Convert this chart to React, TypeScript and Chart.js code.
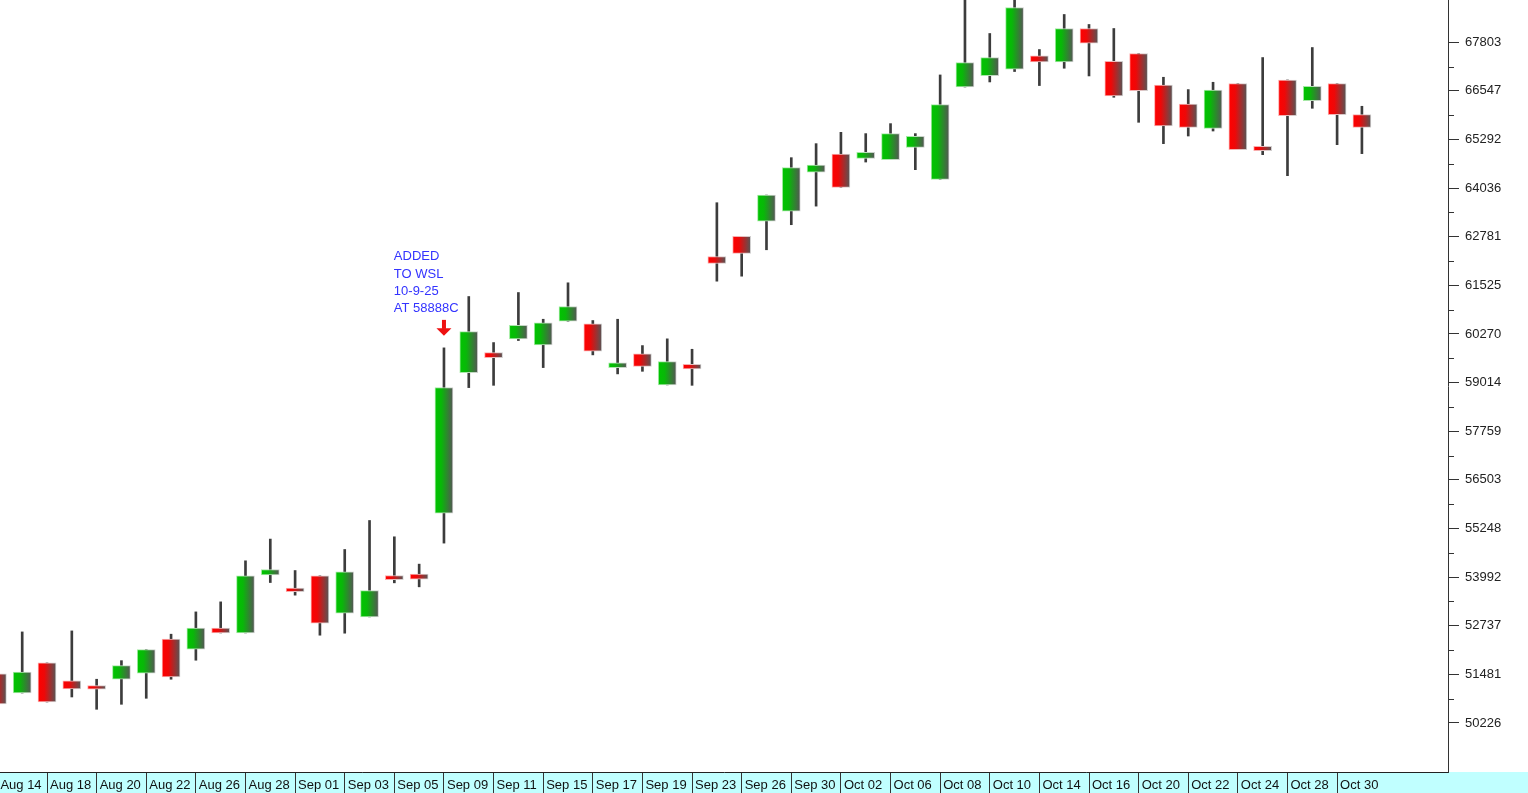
import React, { useEffect, useRef } from 'react';
import { Chart, registerables } from 'chart.js';

Chart.register(...registerables);

// ---- Data ----
const dates = [
  'Aug 14', 'Aug 15', 'Aug 18', 'Aug 19', 'Aug 20', 'Aug 21', 'Aug 22', 'Aug 25', 'Aug 26', 'Aug 27',
  'Aug 28', 'Aug 29', 'Sep 01', 'Sep 02', 'Sep 03', 'Sep 04', 'Sep 05', 'Sep 08', 'Sep 09', 'Sep 10',
  'Sep 11', 'Sep 12', 'Sep 15', 'Sep 16', 'Sep 17', 'Sep 18', 'Sep 19', 'Sep 22', 'Sep 23', 'Sep 25',
  'Sep 26', 'Sep 29', 'Sep 30', 'Oct 01', 'Oct 02', 'Oct 03', 'Oct 06', 'Oct 07', 'Oct 08', 'Oct 09',
  'Oct 10', 'Oct 13', 'Oct 14', 'Oct 15', 'Oct 16', 'Oct 17', 'Oct 20', 'Oct 21', 'Oct 22', 'Oct 23',
  'Oct 24', 'Oct 27', 'Oct 28', 'Oct 29', 'Oct 30', 'Oct 31',
];

const tickLabels = [
  'Aug 14', 'Aug 18', 'Aug 20', 'Aug 22', 'Aug 26', 'Aug 28', 'Sep 01', 'Sep 03', 'Sep 05', 'Sep 09',
  'Sep 11', 'Sep 15', 'Sep 17', 'Sep 19', 'Sep 23', 'Sep 26', 'Sep 30', 'Oct 02', 'Oct 06', 'Oct 08',
  'Oct 10', 'Oct 14', 'Oct 16', 'Oct 20', 'Oct 22', 'Oct 24', 'Oct 28', 'Oct 30',
];

const opens = [
  51492, 51000, 51776, 51311, 51189, 51355, 51510, 52389, 52130, 52673,
  52551, 54051, 53707, 54025, 53061, 52965, 54033, 54069, 55646, 59272,
  59789, 60144, 59989, 60599, 60531, 59402, 59756, 58955, 59487, 62271,
  62788, 63184, 63442, 64450, 64916, 64804, 64771, 65089, 64262, 66647,
  66942, 67105, 67449, 67294, 68157, 67312, 67511, 66699, 66208, 65580,
  66735, 65115, 66828, 66296, 66735, 65934,
];

const highs = [
  51492, 52577, 51776, 52603, 51355, 51835, 52120, 52518, 53094, 53353,
  54413, 54974, 54162, 54025, 54705, 55454, 55033, 54327, 59911, 61237,
  60048, 61340, 60650, 61591, 60617, 60650, 59970, 60144, 59875, 63659,
  62788, 63856, 64822, 65184, 65476, 65443, 65701, 65443, 66958, 69200,
  68028, 69100, 67614, 68519, 68261, 68157, 67511, 66898, 66580, 66769,
  66735, 67407, 66828, 67666, 66735, 66149,
];

const lows = [
  50716, 51000, 50768, 50897, 50579, 50708, 50863, 51355, 51846, 52551,
  52551, 53852, 53526, 52492, 52544, 52965, 53844, 53741, 54870, 58885,
  58944, 60100, 59402, 60599, 59730, 59239, 59306, 58955, 58944, 61633,
  61762, 62444, 63091, 63571, 64055, 64709, 64771, 64512, 64262, 66647,
  66777, 67046, 66684, 67131, 66932, 66381, 65735, 65184, 65381, 65510,
  65029, 64900, 64357, 66097, 65158, 64926,
];

const closes = [
  50716, 51543, 50768, 51104, 51096, 51706, 52120, 51414, 52673, 52551,
  54025, 54188, 53619, 52802, 54128, 53645, 53929, 53940, 58888, 60332,
  59660, 60495, 60557, 60979, 59823, 59523, 59435, 59557, 59368, 62090,
  62349, 63856, 64564, 64631, 64055, 64959, 65443, 65373, 66193, 67278,
  67407, 68700, 67294, 68157, 67777, 66415, 66554, 65639, 65606, 66570,
  65029, 65003, 65908, 66666, 65934, 65606,
];

const yTicks = [
  67803, 66547, 65292, 64036, 62781, 61525, 60270, 59014, 57759, 56503,
  55248, 53992, 52737, 51481, 50226,
];

const annotationIndex = 18;
const annotationLines = ['ADDED', 'TO WSL', '10-9-25', 'AT 58888C'];

// ---- Axis ranges ----
const X_MIN = 0.105;
const X_MAX = 58.47;
const Y_MIN = 48960;
const Y_MAX = 68893;

const FONT = 'Liberation Sans, Arial, Helvetica, sans-serif';

const isUp = (i: number) => closes[i] >= opens[i];

const bodyFill = (c: any) => {
  const i = c.dataIndex;
  const up = isUp(i);
  const base = up ? '#00c000' : '#ff0000';
  const chart = c.chart;
  if (c.type !== 'data' || !chart.chartArea || !chart.scales.x) return base;
  const x = chart.scales.x.getPixelForValue(i);
  const g = chart.ctx.createLinearGradient(x - 9, 0, x + 9, 0);
  g.addColorStop(0, up ? '#00c400' : '#ff0000');
  g.addColorStop(0.35, up ? '#08b808' : '#ee0808');
  g.addColorStop(1, '#555555');
  return g;
};

const bodyBorder = (c: any) => {
  const i = c.dataIndex;
  const up = isUp(i);
  const base = up ? '#a0eca0' : '#ffa8a8';
  const chart = c.chart;
  if (c.type !== 'data' || !chart.chartArea || !chart.scales.x) return base;
  const x = chart.scales.x.getPixelForValue(i);
  const g = chart.ctx.createLinearGradient(x - 9, 0, x + 9, 0);
  g.addColorStop(0, base);
  g.addColorStop(1, '#d0d0d0');
  return g;
};

const backgroundPlugin = {
  id: 'bgStrip',
  beforeDraw(chart: any) {
    const { ctx, width, height, chartArea } = chart;
    ctx.save();
    ctx.fillStyle = '#ffffff';
    ctx.fillRect(0, 0, width, height);
    ctx.fillStyle = '#c0ffff';
    ctx.fillRect(0, chartArea.bottom, width, height - chartArea.bottom);
    ctx.restore();
  },
};

const minorTickPlugin = {
  id: 'minorTicks',
  afterDraw(chart: any) {
    const { ctx, chartArea, scales } = chart;
    const y = scales.y;
    ctx.save();
    ctx.strokeStyle = '#333333';
    ctx.lineWidth = 1;
    for (let k = 0; k < yTicks.length - 1; k++) {
      const mid = (yTicks[k] + yTicks[k + 1]) / 2;
      const py = Math.round(y.getPixelForValue(mid)) + 0.5;
      ctx.beginPath();
      ctx.moveTo(chartArea.right, py);
      ctx.lineTo(chartArea.right + 6, py);
      ctx.stroke();
    }
    ctx.restore();
  },
};

const annotationPlugin = {
  id: 'wslNote',
  afterDatasetsDraw(chart: any) {
    const { ctx, scales } = chart;
    const x = scales.x.getPixelForValue(annotationIndex);
    const tip = scales.y.getPixelForValue(highs[annotationIndex]) - 12;
    const top = tip - 16;
    ctx.save();
    // arrow
    ctx.fillStyle = '#ee1111';
    ctx.fillRect(x - 2, top, 4, 9);
    ctx.beginPath();
    ctx.moveTo(x - 7.5, top + 8.5);
    ctx.lineTo(x + 7.5, top + 8.5);
    ctx.lineTo(x, tip);
    ctx.closePath();
    ctx.fill();
    // text
    ctx.fillStyle = '#3333ff';
    ctx.font = `13px ${FONT}`;
    ctx.textAlign = 'left';
    ctx.textBaseline = 'middle';
    const left = scales.x.getPixelForValue(annotationIndex - 2) - 0.5;
    const n = annotationLines.length;
    annotationLines.forEach((line, k) => {
      ctx.fillText(line, left, top - 11 - (n - 1 - k) * 17.4);
    });
    ctx.restore();
  },
};

export default function App() {
  const ref = useRef<HTMLCanvasElement>(null);

  useEffect(() => {
    document.body.style.margin = '0';
    const canvas = ref.current;
    if (!canvas) return;

    const bodyData = opens.map((o, i) => ({ x: i, y: [o, closes[i]] }));
    const wickData = lows.map((l, i) => ({ x: i, y: [l, highs[i]] }));

    const chart = new Chart(canvas, {
      type: 'bar',
      data: {
        datasets: [
          {
            label: 'wick',
            data: wickData as any,
            backgroundColor: '#3c3c3c',
            borderWidth: 0,
            barThickness: 2,
            grouped: false,
            order: 2,
          } as any,
          {
            label: 'body',
            data: bodyData as any,
            backgroundColor: bodyFill,
            borderColor: bodyBorder,
            borderWidth: 1,
            borderSkipped: false,
            barThickness: 18,
            grouped: false,
            order: 1,
          } as any,
        ],
      },
      options: {
        animation: false,
        responsive: false,
        devicePixelRatio: 1,
        layout: { padding: 0 },
        plugins: {
          legend: { display: false },
          tooltip: { enabled: false },
          title: { display: false },
        },
        scales: {
          x: {
            type: 'linear',
            position: 'bottom',
            min: X_MIN,
            max: X_MAX,
            offset: false,
            grid: {
              display: true,
              drawOnChartArea: false,
              drawTicks: true,
              tickLength: 21,
              tickColor: '#333333',
              tickWidth: 1,
              offset: false,
            },
            border: { display: true, color: '#222222', width: 1 },
            ticks: {
              autoSkip: false,
              maxRotation: 0,
              minRotation: 0,
              align: 'start',
              labelOffset: 3,
              padding: -15.5,
              color: '#111111',
              font: { family: FONT, size: 13 },
              callback: (_v: any, index: number) => tickLabels[index] ?? '',
            },
            afterBuildTicks: (scale: any) => {
              scale.ticks = tickLabels.map((_, k) => ({ value: k * 2 }));
            },
            afterFit: (scale: any) => {
              scale.height = 21;
              scale.paddingLeft = 0;
              scale.paddingRight = 0;
              scale.paddingTop = 0;
              scale.paddingBottom = 0;
            },
          } as any,
          y: {
            type: 'linear',
            position: 'right',
            min: Y_MIN,
            max: Y_MAX,
            beginAtZero: false,
            grid: {
              display: true,
              drawOnChartArea: false,
              drawTicks: true,
              tickLength: 11,
              tickColor: '#333333',
              tickWidth: 1,
            },
            border: { display: true, color: '#333333', width: 1 },
            ticks: {
              padding: 6,
              color: '#222222',
              font: { family: FONT, size: 13 },
              callback: (v: any) => String(v),
            },
            afterBuildTicks: (scale: any) => {
              scale.ticks = yTicks.map((v) => ({ value: v }));
            },
            afterFit: (scale: any) => {
              scale.width = 80;
              scale.paddingTop = 0;
              scale.paddingBottom = 0;
              scale.paddingLeft = 0;
              scale.paddingRight = 0;
            },
          } as any,
        },
      },
      plugins: [backgroundPlugin, minorTickPlugin, annotationPlugin],
    } as any);

    return () => chart.destroy();
  }, []);

  return (
    <div style={{ position: 'absolute', left: 0, top: 0, width: 1528, height: 793 }}>
      <canvas
        ref={ref}
        width={1528}
        height={793}
        style={{ display: 'block', width: 1528, height: 793 }}
        aria-label={`Candlestick chart ${dates[0]} to ${dates[dates.length - 1]}`}
      />
    </div>
  );
}
